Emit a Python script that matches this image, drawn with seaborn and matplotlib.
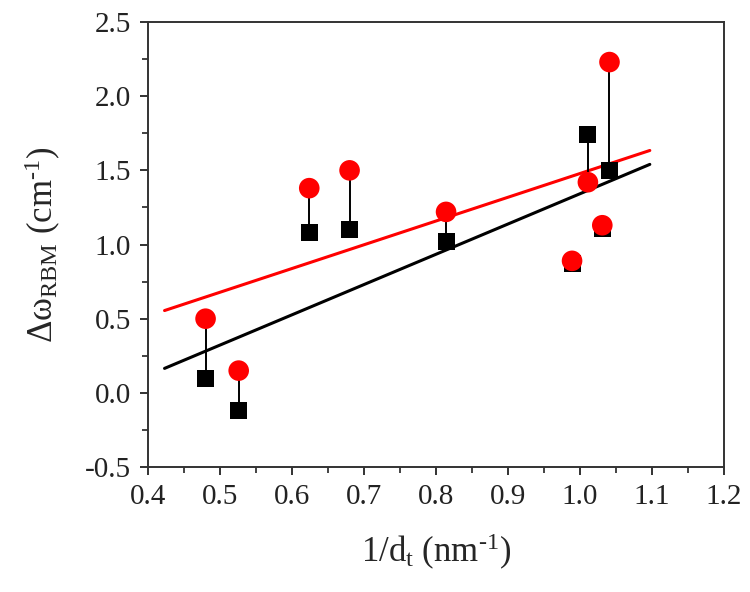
import numpy as np
import pandas as pd
import matplotlib
matplotlib.use("Agg")
import matplotlib.pyplot as plt
from matplotlib.ticker import MultipleLocator
import seaborn as sns

# -------------------------------
# Data
# -------------------------------
inv_dt = [0.480, 0.526, 0.624, 0.680, 0.814, 0.989, 1.011, 1.031, 1.041]
shift_black = [0.10, -0.12, 1.08, 1.10, 1.02, 0.87, 1.74, 1.11, 1.50]
shift_red = [0.50, 0.15, 1.38, 1.50, 1.22, 0.89, 1.42, 1.13, 2.23]
fit_range = [0.423, 1.097]

df = pd.DataFrame({"x": inv_dt, "black": shift_black, "red": shift_red})

# -------------------------------
# Style
# -------------------------------
sns.set_style("ticks")
plt.rcParams["font.family"] = ["Liberation Serif", "DejaVu Serif"]
plt.rcParams["mathtext.fontset"] = "custom"
plt.rcParams["mathtext.rm"] = "Liberation Serif"
plt.rcParams["mathtext.it"] = "Liberation Serif:italic"

fig = plt.figure(figsize=(7.5, 5.92), dpi=100)
ax = fig.add_axes([0.1973, 0.2111, 0.768, 0.7517])

# linear fits
fit_x = np.array(fit_range)
for col, color in [("red", "#ff0000"), ("black", "black")]:
    slope, icept = np.polyfit(df["x"], df[col], 1)
    sns.lineplot(x=fit_x, y=slope * fit_x + icept, color=color, lw=2.2, ax=ax)

# connectors
ax.vlines(df["x"], df["black"], df["red"], color="black", lw=1.4, zorder=3)

sns.scatterplot(data=df, x="x", y="black", marker="s", s=150, color="black",
                edgecolor="none", ax=ax, zorder=4)
sns.scatterplot(data=df, x="x", y="red", marker="o", s=220, color="#ff0000",
                edgecolor="none", ax=ax, zorder=5)

ax.set_xlim(0.4, 1.2)
ax.set_ylim(-0.5, 2.5)
ax.xaxis.set_major_locator(MultipleLocator(0.1))
ax.xaxis.set_minor_locator(MultipleLocator(0.05))
ax.yaxis.set_major_locator(MultipleLocator(0.5))
ax.yaxis.set_minor_locator(MultipleLocator(0.25))
ax.xaxis.set_major_formatter(matplotlib.ticker.FormatStrFormatter("%.1f"))
ax.yaxis.set_major_formatter(matplotlib.ticker.FormatStrFormatter("%.1f"))

for sp in ax.spines.values():
    sp.set_visible(True)
    sp.set_linewidth(1.4)
    sp.set_color("#333333")
ax.tick_params(which="major", direction="out", length=6, width=1.3,
               labelsize=21, colors="#222222", pad=6)
ax.tick_params(which="minor", direction="out", length=4, width=1.2, colors="#222222")
ax.tick_params(top=False, right=False, which="both")

ax.set_xlabel(r"1/d$_{\rm t}$ (nm$^{\text{-1}}$)", fontsize=25, labelpad=16)
ax.set_ylabel(r"Δω$_{\rm RBM}$ (cm$^{\text{-1}}$)", fontsize=25, labelpad=16)

plt.savefig("out.png", dpi=100)
